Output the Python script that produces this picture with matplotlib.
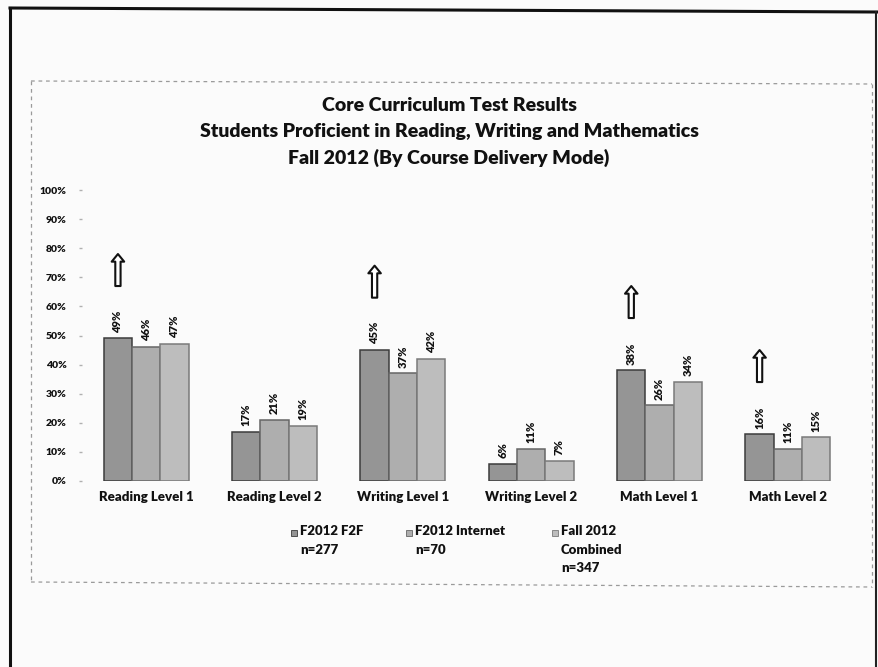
import matplotlib
matplotlib.use("Agg")
import matplotlib.pyplot as plt
import numpy as np
from matplotlib.lines import Line2D
from matplotlib.patches import Rectangle

plt.rcParams['font.family'] = ['Lato', 'DejaVu Sans']
plt.rcParams['font.weight'] = 'bold'

categories = ["Reading Level 1", "Reading Level 2", "Writing Level 1",
              "Writing Level 2", "Math Level 1", "Math Level 2"]
f2f = [49, 17, 45, 6, 38, 16]
internet = [46, 21, 37, 11, 26, 11]
combined = [47, 19, 42, 7, 34, 15]
series_labels = ["F2012 F2F\nn=277", "F2012 Internet\nn=70", "Fall 2012\nCombined\nn=347"]
yticks = [0, 10, 20, 30, 40, 50, 60, 70, 80, 90, 100]
# categories where the face-to-face result is flagged with an up arrow
arrow_groups = [0, 2, 4, 5]

title = ("Core Curriculum Test Results\n"
         "Students Proficient in Reading, Writing and Mathematics\n"
         "Fall 2012 (By Course Delivery Mode)")

fills = ["#959595", "#aeaeae", "#bdbdbd"]
edges = ["#3c3c3c", "#666666", "#7a7a7a"]
ink = "#111111"

W, H = 879, 667
fig = plt.figure(figsize=(W / 100, H / 100), dpi=100)
fig.patch.set_facecolor("#fbfbfb")

def fx(px):
    return px / W

def fy(py):
    return 1 - py / H

# page frame
fig.add_artist(Line2D([fx(10), fx(877)], [fy(8), fy(12)], color=ink, lw=2.2))
fig.add_artist(Line2D([fx(10), fx(10)], [fy(8), fy(667)], color=ink, lw=2.2))
fig.add_artist(Line2D([fx(876), fx(876)], [fy(12), fy(667)], color="#222222", lw=1.5))
# chart area border
dash = dict(color="#9a9a9a", lw=0.9, ls=(0, (3, 3)))
fig.add_artist(Line2D([fx(31), fx(872)], [fy(81), fy(84)], **dash))
fig.add_artist(Line2D([fx(31), fx(31)], [fy(81), fy(582)], **dash))
fig.add_artist(Line2D([fx(872), fx(872)], [fy(84), fy(587)], **dash))
fig.add_artist(Line2D([fx(31), fx(872)], [fy(582), fy(587)], **dash))

ax = fig.add_axes([fx(82), fy(481), fx(852) - fx(82), fy(190) - fy(481)])
ax.set_facecolor("none")

x = np.arange(len(categories))
w = 0.22
for k, (vals, fc, ec) in enumerate(zip([f2f, internet, combined], fills, edges)):
    pos = x + (k - 1) * w
    ax.bar(pos, vals, width=w, color=fc, edgecolor=ec, linewidth=1.1)
    for xp, v in zip(pos, vals):
        ax.text(xp, v + 2, f"{v}%", rotation=90, ha="center", va="bottom",
                fontsize=8, fontweight="heavy", color=ink)

for g in arrow_groups:
    xp = x[g] - w
    base = f2f[g] + 18
    ax.annotate("", xy=(xp, base + 11), xytext=(xp, base),
                arrowprops=dict(arrowstyle="simple,head_length=0.55,head_width=0.9,tail_width=0.38",
                                fc="white", ec=ink, lw=1.5,
                                shrinkA=0, shrinkB=0))

ax.set_xlim(-0.5, len(categories) - 0.5)
ax.set_ylim(0, 100)
ax.set_yticks(yticks)
ax.set_yticklabels([f"{t}%" for t in yticks], fontsize=7.5, fontweight="heavy", color=ink)
ax.set_xticks(x)
ax.set_xticklabels(categories, fontsize=9.5, fontweight="heavy", color=ink)
ax.tick_params(axis="x", length=0, pad=7)
ax.tick_params(axis="y", length=2, width=1, color="#b0b0b0", pad=9)
for s in ax.spines.values():
    s.set_visible(False)

fig.text(fx(449), fy(97), title, ha="center", va="top", fontsize=14,
         fontweight="heavy", linespacing=1.62, color=ink)

# legend
leg_x = [294, 409, 555]
for lx, lab, fc, ec in zip(leg_x, series_labels, fills, edges):
    fig.add_artist(Rectangle((fx(lx - 3), fy(536)), fx(6), 6 / H,
                             facecolor=fc, edgecolor=ec, lw=0.6))
    fig.text(fx(lx + 6), fy(525), lab, ha="left", va="top", fontsize=9.5,
             fontweight="heavy", linespacing=1.65, color=ink)

fig.savefig("out.png", dpi=100, facecolor=fig.get_facecolor())
